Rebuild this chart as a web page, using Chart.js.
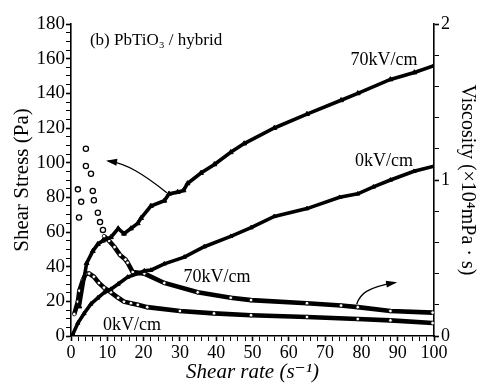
<!DOCTYPE html>
<html><head><meta charset="utf-8">
<script src="https://cdn.jsdelivr.net/npm/chart.js@4"></script>
<style>html,body{margin:0;padding:0;background:#fff}</style>
</head><body>
<canvas id="c" width="488" height="387"></canvas>
<script>
// ---- data (shear rate s^-1, value) ----
const stress70kV = [[2.3,17],[4.3,42],[6,49],[7.4,53],[8.8,55],[11,57],[13,62],[14.6,59],[16.5,62],[18.4,65],[19.3,68],[22,75],[25.7,78],[27,82],[29.4,83],[31,84],[32.1,88],[35.8,94],[39.5,99],[44,106],[47.7,111],[56,120],[65,128],[74.4,136],[79,140],[88,148],[94.6,152],[100,156]];
const stress0kV = [[0.5,1],[1.9,7.5],[3.6,13],[5.5,18.5],[7.4,22],[9.1,25],[11,27],[13,30],[15.6,34],[18.4,36],[20.2,37.6],[22,38],[25.7,41.6],[31.2,45.5],[36.7,51.5],[44,57.5],[49.6,62.5],[56,69],[65,73.5],[74,80],[79,82],[83.3,86],[88,90],[94.5,95],[100,98]];
const visc70kVEarly = [[1.9,0.94],[2.2,0.76],[2.8,0.86],[4.1,1.20],[4.1,1.09],[5.5,1.04],[6,0.93],[6.3,0.87],[7.4,0.79],[8,0.73],[8.8,0.68]];
const visc70kV = [[9.1,0.64],[10.5,0.61],[12,0.57],[13.5,0.52],[15,0.49],[15.6,0.47],[17,0.41],[20.2,0.40],[25.7,0.34],[34.9,0.28],[44,0.245],[49.6,0.23],[65,0.21],[74.4,0.195],[79,0.185],[88,0.16],[99.6,0.15]];
const visc0kV = [[0.9,0.14],[1.9,0.22],[2.3,0.29],[3.3,0.36],[4.1,0.40],[5,0.40],[6.3,0.38],[7.7,0.34],[9.1,0.31],[11,0.28],[13,0.245],[14.6,0.22],[16.5,0.21],[18.4,0.20],[21,0.185],[30,0.16],[39.4,0.145],[49.6,0.133],[65,0.122],[79,0.109],[88,0.10],[99.6,0.083]];

const xRange = [0, 100], xMinorStep = 2, xLabelStep = 10;
const stressRange = [0, 180], stressMinorStep = 5, stressLabelStep = 20;
const viscRange = [0, 2], viscMinorStep = 0.2, viscLabelStep = 1;

const SERIF = '"Liberation Serif","DejaVu Serif",serif';
const toPts = a => a.map(p => ({x: p[0], y: p[1]}));
const isMult = (v, s) => Math.abs(v / s - Math.round(v / s)) < 1e-6;

const datasets = [
  {data: toPts(stress70kV), yAxisID: 'y', showLine: true, borderColor: '#000', borderWidth: 3.6,
   pointStyle: 'triangle', pointRadius: 2.8, pointBackgroundColor: '#000', pointBorderColor: '#000', pointBorderWidth: 1},
  {data: toPts(stress0kV), yAxisID: 'y', showLine: true, borderColor: '#000', borderWidth: 3.6,
   pointStyle: 'triangle', pointRadius: 2.4, pointBackgroundColor: '#000', pointBorderColor: '#000', pointBorderWidth: 1},
  {data: toPts(visc70kV), yAxisID: 'y1', showLine: true, borderColor: '#000', borderWidth: 4.6,
   pointStyle: 'circle', pointRadius: 1.8, pointBackgroundColor: '#fff', pointBorderColor: '#000', pointBorderWidth: 0.8},
  {data: toPts(visc0kV), yAxisID: 'y1', showLine: true, borderColor: '#000', borderWidth: 4.6,
   pointStyle: 'circle', pointRadius: 1.8, pointBackgroundColor: '#fff', pointBorderColor: '#000', pointBorderWidth: 0.8},
  {data: toPts(visc70kVEarly), yAxisID: 'y1', showLine: false,
   pointStyle: 'circle', pointRadius: 2.6, pointBackgroundColor: '#fff', pointBorderColor: '#000', pointBorderWidth: 1.3}
];

const notes = {
  texts: [
    {t: '(b) PbTiO₃ / hybrid', x: 5.2, y: 170.5, align: 'left', size: 17},
    {t: '70kV/cm', x: 86.2, y: 159, align: 'center', size: 18},
    {t: '0kV/cm', x: 86.2, y: 101, align: 'center', size: 18},
    {t: '70kV/cm', x: 40.2, y: 34, align: 'center', size: 18},
    {t: '0kV/cm', x: 16.8, y: 6.4, align: 'center', size: 18}
  ],
  arrows: [
    [[26.4, 82.7], [19.8, 93.6], [15.4, 99.4], [10.2, 101]],
    [[78.7, 18.3], [79.6, 24.3], [81.5, 28], [89.3, 30.8]]
  ]
};

const annot = {
  id: 'annot',
  afterDatasetsDraw(chart) {
    const {ctx, scales: {x, y}} = chart;
    ctx.save();
    ctx.fillStyle = '#000';
    ctx.textBaseline = 'middle';
    notes.texts.forEach(n => {
      ctx.font = n.size + 'px ' + SERIF;
      ctx.textAlign = n.align;
      ctx.fillText(n.t, x.getPixelForValue(n.x), y.getPixelForValue(n.y));
    });
    ctx.strokeStyle = '#000';
    ctx.lineWidth = 1.3;
    notes.arrows.forEach(a => {
      const p = a.map(q => [x.getPixelForValue(q[0]), y.getPixelForValue(q[1])]);
      ctx.beginPath();
      ctx.moveTo(p[0][0], p[0][1]);
      ctx.bezierCurveTo(p[1][0], p[1][1], p[2][0], p[2][1], p[3][0], p[3][1]);
      ctx.stroke();
      const dx = p[3][0] - p[2][0], dy = p[3][1] - p[2][1];
      const ang = Math.atan2(dy, dx);
      ctx.beginPath();
      ctx.moveTo(p[3][0] + 2 * Math.cos(ang), p[3][1] + 2 * Math.sin(ang));
      ctx.lineTo(p[3][0] - 9 * Math.cos(ang) + 3.5 * Math.sin(ang), p[3][1] - 9 * Math.sin(ang) - 3.5 * Math.cos(ang));
      ctx.lineTo(p[3][0] - 9 * Math.cos(ang) - 3.5 * Math.sin(ang), p[3][1] - 9 * Math.sin(ang) + 3.5 * Math.cos(ang));
      ctx.closePath();
      ctx.fill();
    });
    ctx.restore();
  }
};

const tickW = step => c => (c.tick && isMult(c.tick.value, step)) ? 1.6 : 1;

new Chart(document.getElementById('c'), {
  type: 'scatter',
  data: {datasets},
  plugins: [annot],
  options: {
    responsive: false, animation: false,
    layout: {padding: {top: 24, left: 0, right: 0, bottom: 0}},
    plugins: {legend: {display: false}, tooltip: {enabled: false}},
    scales: {
      x: {
        type: 'linear', min: xRange[0], max: xRange[1],
        ticks: {stepSize: xMinorStep, autoSkip: false, maxRotation: 0, color: '#000', padding: 1,
          font: {family: SERIF, size: 18},
          callback: v => isMult(v, xLabelStep) ? String(v) : ''},
        grid: {drawOnChartArea: false, color: '#000', tickLength: 5, tickWidth: tickW(xLabelStep)},
        border: {color: '#000', width: 1.6},
        title: {display: true, text: 'Shear rate (s⁻¹)', color: '#000',
          font: {family: SERIF, size: 21, style: 'italic'}, padding: {top: 0, bottom: 2}},
        afterFit: s => { s.height = 51; }
      },
      y: {
        type: 'linear', position: 'left', min: stressRange[0], max: stressRange[1],
        ticks: {stepSize: stressMinorStep, autoSkip: false, color: '#000', padding: 1,
          font: {family: SERIF, size: 19},
          callback: v => isMult(v, stressLabelStep) ? String(v) : ''},
        grid: {drawOnChartArea: false, color: '#000', tickLength: 5, tickWidth: tickW(stressLabelStep)},
        border: {color: '#000', width: 1.6},
        title: {display: true, text: 'Shear Stress (Pa)', color: '#000',
          font: {family: SERIF, size: 21}, padding: {top: 10, bottom: 0}},
        afterFit: s => { s.width = 71; }
      },
      y1: {
        type: 'linear', position: 'right', min: viscRange[0], max: viscRange[1],
        ticks: {stepSize: viscMinorStep, autoSkip: false, color: '#000', padding: 2,
          font: {family: SERIF, size: 18},
          callback: v => isMult(v, viscLabelStep) ? String(Math.round(v)) : ''},
        grid: {drawOnChartArea: false, color: '#000', tickLength: 5, tickWidth: tickW(viscLabelStep)},
        border: {color: '#000', width: 1.6},
        title: {display: true, text: 'Viscosity (×10⁴mPa · s)', color: '#000',
          font: {family: SERIF, size: 20}, padding: {top: 9, bottom: 0}},
        afterFit: s => { s.width = 54; }
      }
    }
  }
});
</script>
</body></html>
